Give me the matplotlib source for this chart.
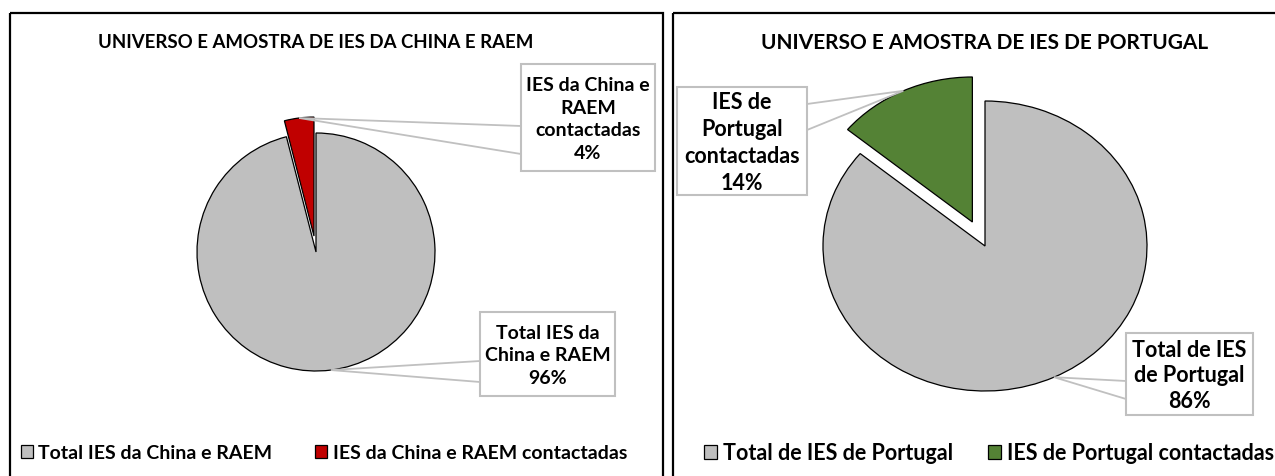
import numpy as np
import matplotlib
matplotlib.use("Agg")
import matplotlib.pyplot as plt
from matplotlib.patches import Rectangle

plt.rcParams['font.family'] = ['Lato', 'DejaVu Sans']

W, H = 1275, 477

# China + RAEM
china_title = "UNIVERSO E AMOSTRA DE IES DA CHINA E RAEM"
china_names = ["Total IES da China e RAEM", "IES da China e RAEM contactadas"]
china_values = [96, 4]
china_callouts = ["Total IES da\nChina e RAEM", "IES da China e\nRAEM\ncontactadas"]
china_colors = ["#bfbfbf", "#c00000"]

# Portugal
pt_title = "UNIVERSO E AMOSTRA DE IES DE PORTUGAL"
pt_names = ["Total de IES de Portugal", "IES de Portugal contactadas"]
pt_values = [86, 14]
pt_callouts = ["Total de IES\nde Portugal", "IES de\nPortugal\ncontactadas"]
pt_colors = ["#bfbfbf", "#548235"]

fig = plt.figure(figsize=(W / 100, H / 100), dpi=100)


def px_axes(cx, cy, rx, ry):
    # radius 1 in data = rx, ry pixels; centre given from top-left of figure
    w, h = 3 * rx, 3 * ry
    return fig.add_axes([(cx - w / 2) / W, (H - cy - h / 2) / H, w / W, h / H])


def draw_pie(ax, values, colors, explode):
    wedges, _ = ax.pie(values, colors=colors, explode=explode, startangle=90,
                       counterclock=False,
                       wedgeprops=dict(edgecolor='black', linewidth=0.9))
    ax.set_aspect('auto')
    ax.set_xlim(-1.5, 1.5)
    ax.set_ylim(-1.5, 1.5)
    return wedges


ax1 = px_axes(316, 253, 119, 119)
w1 = draw_pie(ax1, china_values, china_colors, [0, 0.135])
ax2 = px_axes(985, 247, 162, 145)
w2 = draw_pie(ax2, pt_values, pt_colors, [0, 0.183])

# overlay in pixel coords for boxes, titles, frames
ov = fig.add_axes([0, 0, 1, 1], zorder=5)
ov.set_xlim(0, W)
ov.set_ylim(H, 0)
ov.axis('off')


def tip_of(ax, wedge):
    m = np.deg2rad((wedge.theta1 + wedge.theta2) / 2)
    p = (wedge.center[0] + wedge.r * np.cos(m), wedge.center[1] + wedge.r * np.sin(m))
    return ov.transData.inverted().transform(ax.transData.transform(p))


def callout(ax, wedge, text, box, side, ya, yb, size, ls):
    x0, y0, x1, y1 = box
    tx, ty = tip_of(ax, wedge)
    xs = x0 if side == 'left' else x1
    ov.plot([xs, tx, xs], [ya, ty, yb], color='#c0c0c0', lw=1.3, zorder=2,
            solid_joinstyle='miter')
    ov.add_patch(Rectangle((x0, y0), x1 - x0, y1 - y0, fc='white', ec='#c0c0c0',
                           lw=1.5, zorder=3))
    ov.text((x0 + x1) / 2, (y0 + y1) / 2 + 1, text, ha='center', va='center',
            fontsize=size, weight='bold', linespacing=ls, color='black', zorder=4)


def pct(values, i):
    return f"{values[i] / sum(values) * 100:.0f}%"


callout(ax1, w1[1], china_callouts[1] + "\n" + pct(china_values, 1),
        (521, 65, 655, 172), 'left', 127, 155, 14, 1.42)
callout(ax1, w1[0], china_callouts[0] + "\n" + pct(china_values, 0),
        (480, 313, 615, 397), 'left', 362, 383, 14, 1.42)
callout(ax2, w2[1], pt_callouts[1] + "\n" + pct(pt_values, 1),
        (677, 88, 807, 196), 'right', 105, 131, 15.5, 1.34)
callout(ax2, w2[0], pt_callouts[0] + "\n" + pct(pt_values, 0),
        (1126, 334, 1253, 416), 'left', 382, 400, 15.5, 1.28)

ov.text(316, 43, china_title, ha='center', va='center', fontsize=13.4, weight='bold',
        color='black')
ov.text(985, 43, pt_title, ha='center', va='center', fontsize=15, weight='bold',
        color='black')

# panel frames
ov.add_patch(Rectangle((9.5, 13.5), 653.5, 480, fill=False, ec='black', lw=1.6,
                       clip_on=False))
ov.add_patch(Rectangle((673, 13.5), 620, 480, fill=False, ec='black', lw=1.6,
                       clip_on=False))

leg_kw = dict(ncol=2, loc='center left', frameon=False, handlelength=0.6,
              handleheight=0.6, handletextpad=0.3, borderpad=0, borderaxespad=0)
fig.legend(w1, china_names, bbox_to_anchor=(21 / W, (H - 454) / H),
           prop={'weight': 'bold', 'size': 14}, columnspacing=2.2, **leg_kw)
fig.legend(w2, pt_names, bbox_to_anchor=(704 / W, (H - 454) / H),
           prop={'weight': 'bold', 'size': 15.5}, columnspacing=1.6, **leg_kw)

fig.savefig("out.png", dpi=100, facecolor='white')
